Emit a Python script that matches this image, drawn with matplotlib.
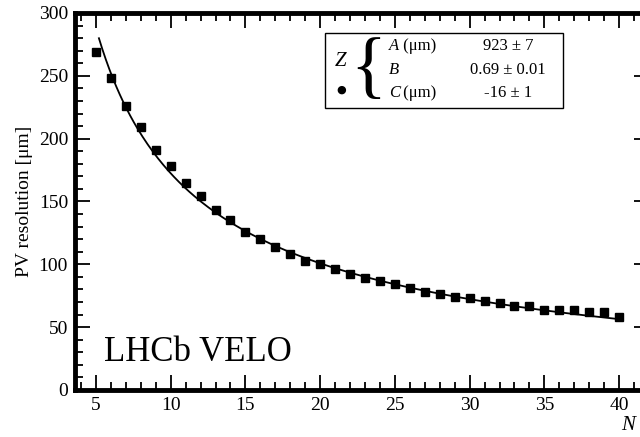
import numpy as np
import matplotlib.pyplot as plt
from matplotlib.ticker import MultipleLocator
from matplotlib.patches import Rectangle

plt.rcParams['font.family'] = ['Liberation Serif', 'DejaVu Serif']

# 数据：每个径迹数 N 对应的 PV 分辨率
n_tracks = np.arange(5, 41)
resolution = np.array([269, 248, 226, 209, 191, 178, 165, 154, 143, 135,
                       126, 120, 114, 108, 103, 100, 96, 92, 89, 87,
                       84, 81, 78, 76, 74, 73, 71, 69, 67, 67,
                       64, 64, 64, 62, 62, 58])

# 拟合参数 A/N^B + C
fit_A, fit_B, fit_C = 923, 0.69, -16
fit_labels = ['A (μm)', 'B', 'C (μm)']
fit_values = ['923 ± 7', '0.69 ± 0.01', '-16 ± 1']

fig = plt.figure(figsize=(6.4, 4.37), dpi=100)
W, H = 640, 437
ax = fig.add_axes([75 / W, 47 / H, 574 / W, 377 / H])

ax.plot(n_tracks, resolution, 's', color='black', markersize=6)
n_fit = np.linspace(5.2, 40, 300)
ax.plot(n_fit, fit_A / n_fit ** fit_B + fit_C, color='black', linewidth=1.3)

ax.set_xlim(3.6, 42)
ax.set_ylim(0, 300)
ax.xaxis.set_major_locator(MultipleLocator(5))
ax.xaxis.set_minor_locator(MultipleLocator(1))
ax.yaxis.set_major_locator(MultipleLocator(50))
ax.yaxis.set_minor_locator(MultipleLocator(10))
ax.tick_params(which='both', direction='in', top=True, right=True,
               labelsize=14, width=1.3, pad=5)
ax.tick_params(which='major', length=11)
ax.tick_params(which='minor', length=6)
for s in ax.spines.values():
    s.set_linewidth(3.5)

ax.set_ylabel('PV resolution [μm]', fontsize=14, labelpad=4)
fig.text(628 / W, 1 - 425 / H, 'N', fontsize=15, style='italic',
         ha='center', va='center')

ax.text(0.05, 0.1, 'LHCb VELO', transform=ax.transAxes,
        fontsize=25, va='center')

# 拟合结果框
fig.patches.append(Rectangle((325 / W, 1 - 108 / H), 238 / W, 75 / H,
                             transform=fig.transFigure, fill=False,
                             edgecolor='black', linewidth=1.0))
fig.text(341 / W, 1 - 61 / H, 'Z', fontsize=15, style='italic',
         ha='center', va='center')
fig.text(341 / W, 1 - 90 / H, '●', fontsize=8, ha='center', va='center',
         family='DejaVu Sans')
fig.text(368 / W, 1 - 71 / H, '{', fontsize=54, ha='center', va='center')
rows_y = [46, 70, 93]
for lab, val, yy in zip(fit_labels, fit_values, rows_y):
    name, _, unit = lab.partition(' ')
    fig.text(389 / W, 1 - yy / H, name, fontsize=12, style='italic',
             va='center')
    if unit:
        fig.text(399 / W, 1 - yy / H, ' ' + unit, fontsize=12, va='center')
    fig.text(508 / W, 1 - yy / H, val, fontsize=12, ha='center', va='center')

fig.savefig('out.png', dpi=100)
